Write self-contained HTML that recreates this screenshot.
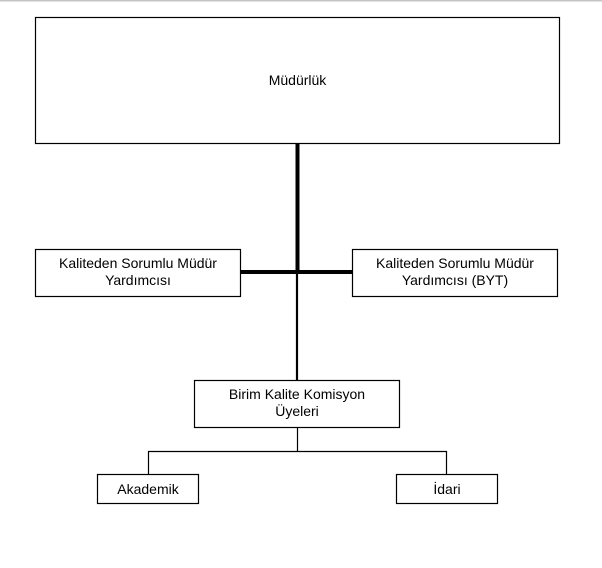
<!DOCTYPE html>
<html><head><meta charset="utf-8"><style>
html,body{margin:0;padding:0;background:#fff;}
svg{display:block;}
text{font-family:"Liberation Sans",Arial,sans-serif;font-size:14px;fill:#000;}
</style></head><body>
<svg width="602" height="568" viewBox="0 0 602 568" xmlns="http://www.w3.org/2000/svg">
<rect x="0" y="0" width="602" height="1.5" fill="#c4c4c4"/>
<g fill="none" stroke="#000" stroke-width="1.2">
<rect x="35.5" y="17.5" width="524" height="126"/>
<rect x="35.5" y="249.5" width="205" height="47"/>
<rect x="352.5" y="249.5" width="205" height="47"/>
<rect x="194.5" y="380.5" width="205" height="47"/>
<rect x="97.5" y="474.5" width="101" height="29"/>
<rect x="396.5" y="474.5" width="101" height="29"/>
</g>
<g stroke="#000" fill="none">
<line x1="297.5" y1="144" x2="297.5" y2="272" stroke-width="4"/>
<line x1="241" y1="272" x2="352" y2="272" stroke-width="4"/>
<line x1="297" y1="272" x2="297" y2="380" stroke-width="2.2"/>
<line x1="297.5" y1="428" x2="297.5" y2="451.5" stroke-width="1.2"/>
<polyline points="148.5,474 148.5,451.5 446.5,451.5 446.5,474" stroke-width="1.2"/>
</g>
<text x="297.5" y="85" text-anchor="middle">Müdürlük</text>
<text x="138" y="268" text-anchor="middle">Kaliteden Sorumlu Müdür</text>
<text x="138" y="285" text-anchor="middle">Yardımcısı</text>
<text x="455" y="268" text-anchor="middle">Kaliteden Sorumlu Müdür</text>
<text x="455" y="285" text-anchor="middle">Yardımcısı (BYT)</text>
<text x="297" y="399" text-anchor="middle">Birim Kalite Komisyon</text>
<text x="297" y="416" text-anchor="middle">Üyeleri</text>
<text x="148" y="494" text-anchor="middle">Akademik</text>
<text x="447" y="494" text-anchor="middle">İdari</text>
</svg>
</body></html>
